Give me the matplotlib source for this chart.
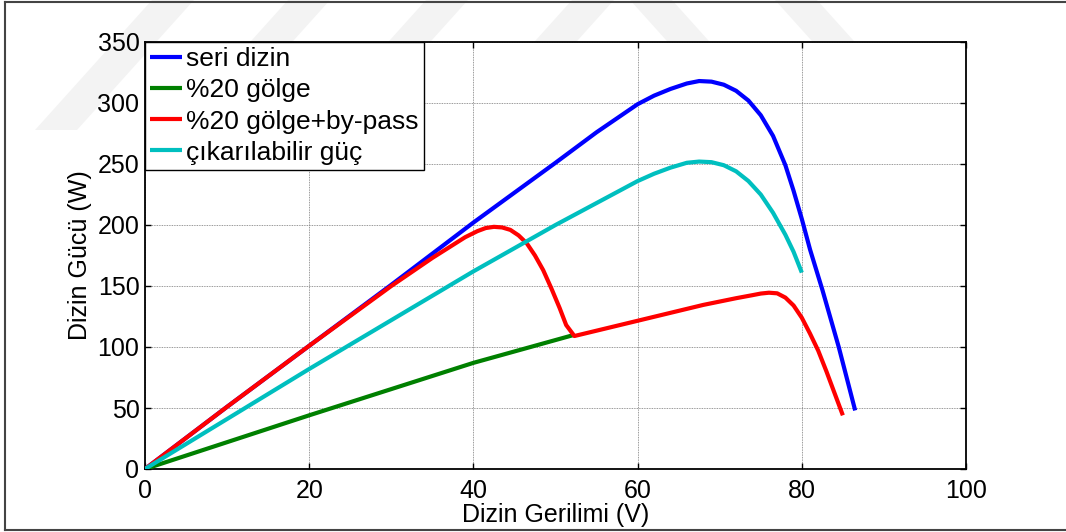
import matplotlib
matplotlib.use("Agg")
import matplotlib.pyplot as plt
from matplotlib.patches import Polygon
from matplotlib.lines import Line2D

plt.rcParams['font.family'] = ['Liberation Sans', 'DejaVu Sans']

# seri dizin
seri_v = [0, 10, 20, 30, 40, 50, 55, 60, 62, 64, 66, 67.5, 69, 70.5, 72, 73.5, 75,
          76.5, 78, 79, 80, 81, 82.5, 84.5, 86.5]
seri_p = [0, 51, 101, 151, 202, 251, 276, 299, 306, 311.5, 316, 318, 317.5, 315, 310, 302, 290,
          273, 249, 228, 205, 180, 147, 100, 48]

# %20 gölge
golge_v = [0, 10, 20, 30, 40, 52.3]
golge_p = [0, 22, 44, 65.5, 87, 110]

# %20 gölge + by-pass
bypass_v = [0, 10, 20, 30, 35, 37, 39, 40.5, 41.5, 42.5, 43.5, 44.5, 45.5, 46.5, 47.5,
            48.5, 49.5, 50.5, 51.3, 52.3, 56, 60, 64, 68, 72, 74, 75, 76, 77, 78, 79,
            80, 81, 82, 83, 84, 85]
bypass_p = [0, 51, 101, 150, 173, 181.5, 190, 195, 197.5, 198.5, 198, 196, 191.5, 185, 175,
            163, 148, 132, 118, 109, 115, 121.5, 128, 134.5, 140, 142.5, 143.8, 144.5, 144,
            140.5, 134, 124, 111, 97, 80, 62, 44]

# çıkarılabilir güç
cikar_v = [0, 10, 20, 30, 40, 50, 55, 60, 62, 64, 66, 67.5, 69, 70.5, 72, 73.5, 75,
           76.5, 78, 79, 80]
cikar_p = [0, 41, 82, 122, 162, 200, 218, 236, 242, 247, 251, 252, 251.5, 249, 244, 236, 225,
           210, 192, 178, 161]

labels = ["seri dizin", "%20 gölge", "%20 gölge+by-pass", "çıkarılabilir güç"]
colors = ["#0000ff", "#008000", "#ff0000", "#00bfbf"]

xticks = [0, 20, 40, 60, 80, 100]
yticks = [0, 50, 100, 150, 200, 250, 300, 350]

W, H = 1066, 532
fig = plt.figure(figsize=(W / 100, H / 100), dpi=100)

# faint watermark stripes (pixel coords, y downward)
stripe_tops = [(152, 1), (288, 1), (426, 1), (572, 1), (630, -1), (775, -1)]
for x0, d in stripe_tops:
    h = 130
    w = 42
    shift = 0.9 * h * d
    pts = [(x0, 0), (x0 + w, 0), (x0 + w - shift, h), (x0 - shift, h)]
    pts = [(px / W, 1 - py / H) for px, py in pts]
    fig.patches.append(Polygon(pts, closed=True, transform=fig.transFigure,
                               facecolor="#f3f3f3", edgecolor="none", zorder=0))

# figure frame
for xs, ys in [((5, W), (2, 2)), ((5, W), (530, 530)), ((5, 5), (2, 530))]:
    fig.lines.append(Line2D([x / W for x in xs], [1 - y / H for y in ys],
                            transform=fig.transFigure, color="#444444", lw=1.5))

ax = fig.add_axes([145 / W, 1 - 469 / H, (966 - 145) / W, (469 - 42) / H])
ax.set_zorder(2)

series = [(seri_v, seri_p), (golge_v, golge_p), (bypass_v, bypass_p), (cikar_v, cikar_p)]
for (v, p), lab, c in zip(series, labels, colors):
    ax.plot(v, p, color=c, lw=3, label=lab, solid_capstyle="butt",
            solid_joinstyle="round", zorder=3)

ax.set_xlim(0, 100)
ax.set_ylim(0, 350)
ax.set_xticks(xticks)
ax.set_yticks(yticks)
ax.grid(True, color="#777777", linestyle=(0, (1, 1)), lw=0.6)
ax.tick_params(direction="in", top=True, right=True, length=4, width=1,
               labelsize=18)
ax.tick_params(axis="x", pad=7)
ax.tick_params(axis="y", pad=4)
for s in ax.spines.values():
    s.set_linewidth(1.3)

ax.set_xlabel("Dizin Gerilimi (V)", fontsize=18, labelpad=0)
ax.set_ylabel("Dizin Gücü (W)", fontsize=18, labelpad=4)

leg = ax.legend(loc="upper left", bbox_to_anchor=(0, 1), borderaxespad=0,
                fontsize=19, handlelength=1.2, handletextpad=0.15,
                labelspacing=0.27, borderpad=0.2, fancybox=False,
                framealpha=1, edgecolor="black")
leg.get_frame().set_linewidth(1.0)

fig.savefig("out.png", dpi=100)
